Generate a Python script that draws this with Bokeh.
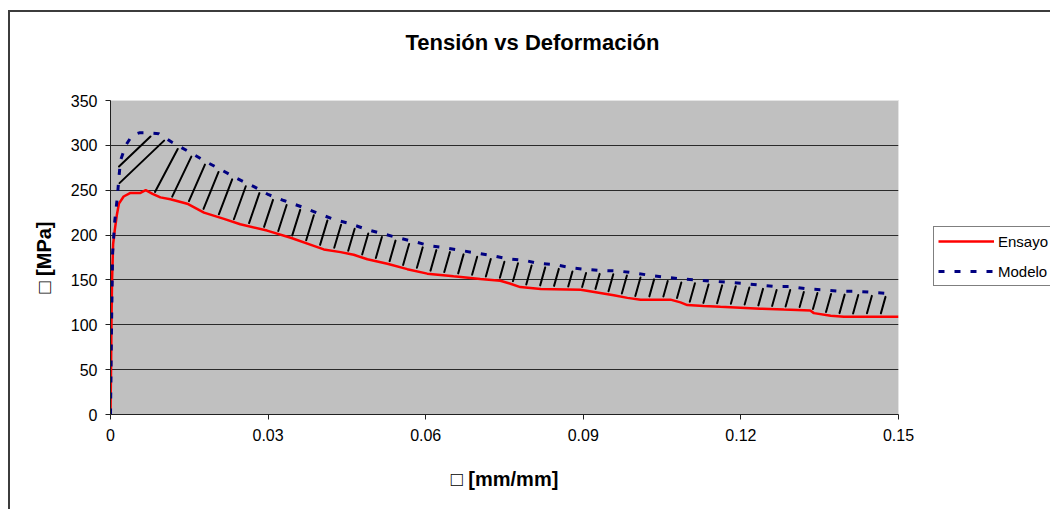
import numpy as np
from bokeh.plotting import figure
from bokeh.models import Range1d, FixedTicker, Legend, LegendItem, Title
from bokeh.embed import file_html
from bokeh.resources import INLINE

# ---- texts and ticks -------------------------------------------------------
title_text = "Tensión vs Deformación"
x_label = "□ [mm/mm]"
y_label = "□ [MPa]"
x_ticks = [0, 0.03, 0.06, 0.09, 0.12, 0.15]
x_tick_labels = ["0", "0.03", "0.06", "0.09", "0.12", "0.15"]
y_ticks = [0, 50, 100, 150, 200, 250, 300, 350]
series_names = ["Ensayo", "Modelo"]

# ---- measured curve (Ensayo) -----------------------------------------------
strain_ensayo = [0, 0.0001, 0.0002, 0.0003, 0.0005, 0.0008, 0.0012, 0.0016,
                 0.0025, 0.0038, 0.0057, 0.0067, 0.0080, 0.0095, 0.0114,
                 0.0146, 0.0178, 0.0216, 0.0247, 0.0298, 0.0343, 0.0387,
                 0.0406, 0.0438, 0.0463, 0.0489, 0.0527, 0.0565, 0.0603,
                 0.0653, 0.0704, 0.0742, 0.0760, 0.0780, 0.0819, 0.0895,
                 0.0958, 0.0984, 0.1009, 0.1066, 0.1085, 0.1098, 0.1129,
                 0.1161, 0.1237, 0.1282, 0.1332, 0.1339, 0.1371, 0.1396,
                 0.1500]
stress_ensayo = [0, 50, 110, 150, 190, 205, 222, 235,
                 243, 247, 247, 250, 246, 242, 240,
                 235, 225, 218, 212, 205, 197, 188,
                 184, 181, 178, 173, 168, 162, 157,
                 154, 151, 149, 146, 142, 140, 139,
                 133, 130, 128, 128, 125, 122, 121,
                 120, 118, 117, 116, 113, 110, 109,
                 109]

# ---- model curve (Modelo) --------------------------------------------------
strain_modelo = [0, 0.0002, 0.0004, 0.0008, 0.0013, 0.0016, 0.0019, 0.0029,
                 0.0041, 0.0055, 0.0070, 0.0092, 0.0117, 0.0149, 0.0181,
                 0.0213, 0.0241, 0.0273, 0.0301, 0.0330, 0.0366, 0.0397,
                 0.0428, 0.0457, 0.0489, 0.0515, 0.0547, 0.0576, 0.0609,
                 0.0635, 0.0666, 0.0695, 0.0727, 0.0756, 0.0790, 0.0812,
                 0.0847, 0.0876, 0.0906, 0.0935, 0.0966, 0.0994, 0.1028,
                 0.1056, 0.1087, 0.1116, 0.1145, 0.1174, 0.1208, 0.1231,
                 0.1265, 0.1294, 0.1326, 0.1355, 0.1387, 0.1414, 0.1446,
                 0.1476]
stress_modelo = [0, 100, 180, 215, 242, 264, 283, 300,
                 311, 314, 314, 313, 303.5, 293, 282,
                 272, 263, 254, 245, 238.5, 231, 223.7,
                 217, 212.6, 206, 202, 197, 193, 188,
                 186, 183, 180, 177, 173.5, 171.6, 168.6,
                 167, 163.5, 161.6, 160.5, 160, 158, 155,
                 153, 151, 150, 148.6, 147.5, 146, 144.5,
                 142.7, 142.7, 140, 139, 137.5, 137.5, 136.3,
                 135]

FONT = "Liberation Sans"
FRAME_W, FRAME_H = 788, 314
X_MAX, Y_MAX = x_ticks[-1], y_ticks[-1]

p = figure(frame_width=FRAME_W, frame_height=FRAME_H,
           x_range=Range1d(0, X_MAX), y_range=Range1d(0, Y_MAX),
           min_border_left=110, min_border_right=152,
           min_border_top=100, min_border_bottom=95,
           background_fill_color="#c0c0c0",
           border_fill_color="white", border_fill_alpha=0,
           output_backend="svg", toolbar_location=None)
p.outline_line_color = "#e4e4e4"
p.outline_line_width = 1

# chart border: dark rule along the top and left edges of the chart area
p.styles = {
    "background-color": "white",
    "background-image": "linear-gradient(#3c3c3c, #3c3c3c), "
                        "linear-gradient(#3c3c3c, #3c3c3c)",
    "background-size": "100% 2px, 2px 100%",
    "background-position": "8px 10px, 8px 10px",
    "background-repeat": "no-repeat",
}

# ---- title -----------------------------------------------------------------
# blank spacer panel between the frame and the title, lifting the title
p.add_layout(Title(text=" ", text_font_size="10px", standoff=6), "above")
p.title.text = title_text
p.title.align = "left"
p.title.vertical_align = "top"
p.title.offset = 295
p.title.standoff = 50
p.title.text_font = FONT
p.title.text_font_size = "22px"
p.title.text_font_style = "bold"
p.title.text_color = "#000000"

# ---- axes ------------------------------------------------------------------
p.xaxis.ticker = FixedTicker(ticks=x_ticks)
p.xaxis.major_label_overrides = dict(zip(x_ticks, x_tick_labels))
p.yaxis.ticker = FixedTicker(ticks=y_ticks)
for ax in (p.xaxis[0], p.yaxis[0]):
    ax.axis_line_color = "#202020"
    ax.axis_line_width = 1
    ax.major_tick_line_color = "#202020"
    ax.major_tick_out = 5
    ax.major_tick_in = 0
    ax.minor_tick_line_color = None
    ax.major_label_text_font = FONT
    ax.major_label_text_font_size = "16px"
    ax.major_label_text_color = "#000000"
    ax.axis_label_text_font = FONT
    ax.axis_label_text_font_size = "20px"
    ax.axis_label_text_font_style = "bold"
    ax.axis_label_text_color = "#000000"
p.xaxis.axis_label = x_label
p.yaxis.axis_label = y_label
p.xaxis.major_label_standoff = 9
p.yaxis.major_label_standoff = 8
p.xaxis.axis_label_standoff = 24
p.yaxis.axis_label_standoff = 13

p.xgrid.visible = False
p.ygrid.ticker = FixedTicker(ticks=y_ticks[1:-1])
p.ygrid.grid_line_color = "#2a2a2a"
p.ygrid.grid_line_width = 1

# ---- hatching between the two curves ---------------------------------------
ex, ey = np.array(strain_ensayo), np.array(stress_ensayo)
mx, my = np.array(strain_modelo), np.array(stress_modelo)
kx = FRAME_W / X_MAX   # pixels per unit strain
ky = FRAME_H / Y_MAX   # pixels per MPa


def lower_px(xp):
    return np.interp(xp / kx, ex, ey) * ky


def upper_px(xp):
    return np.interp(xp / kx, mx, my) * ky


hx0, hy0, hx1, hy1 = [], [], [], []
for xt in np.linspace(40, 775, 55):
    yt = upper_px(xt) - 3.5
    r = 1.05 if xt <= 67 else 0.28 + 0.25 * np.exp(-(xt - 67) / 60.0)
    t = 0.0
    while True:
        xb, yb = xt - r * t, yt - t
        if xb <= 9 or yb <= lower_px(xb) + 3.5:
            break
        t += 0.5
    hx0.append(xb / kx); hy0.append(yb / ky)
    hx1.append(xt / kx); hy1.append(yt / ky)

p.segment(hx0, hy0, hx1, hy1, line_color="#000000", line_width=2,
          line_cap="round")

# ---- curves ----------------------------------------------------------------
r_ens = p.line(strain_ensayo, stress_ensayo, line_color="#ff0000",
               line_width=2.5)
r_mod = p.line(strain_modelo, stress_modelo, line_color="#000080",
               line_width=3, line_dash="6 10")

legend = Legend(items=[LegendItem(label=series_names[0], renderers=[r_ens]),
                       LegendItem(label=series_names[1], renderers=[r_mod])],
                location=(35, 128), orientation="vertical",
                glyph_width=56, glyph_height=20, label_height=20,
                label_width=62, label_standoff=4, spacing=10, padding=4,
                margin=0, label_text_font=FONT, label_text_font_size="15px",
                label_text_color="#000000",
                border_line_color="#000000", border_line_width=1,
                background_fill_color="white", background_fill_alpha=1)
p.add_layout(legend, "right")

open("out.html", "w").write(file_html(p, INLINE))
